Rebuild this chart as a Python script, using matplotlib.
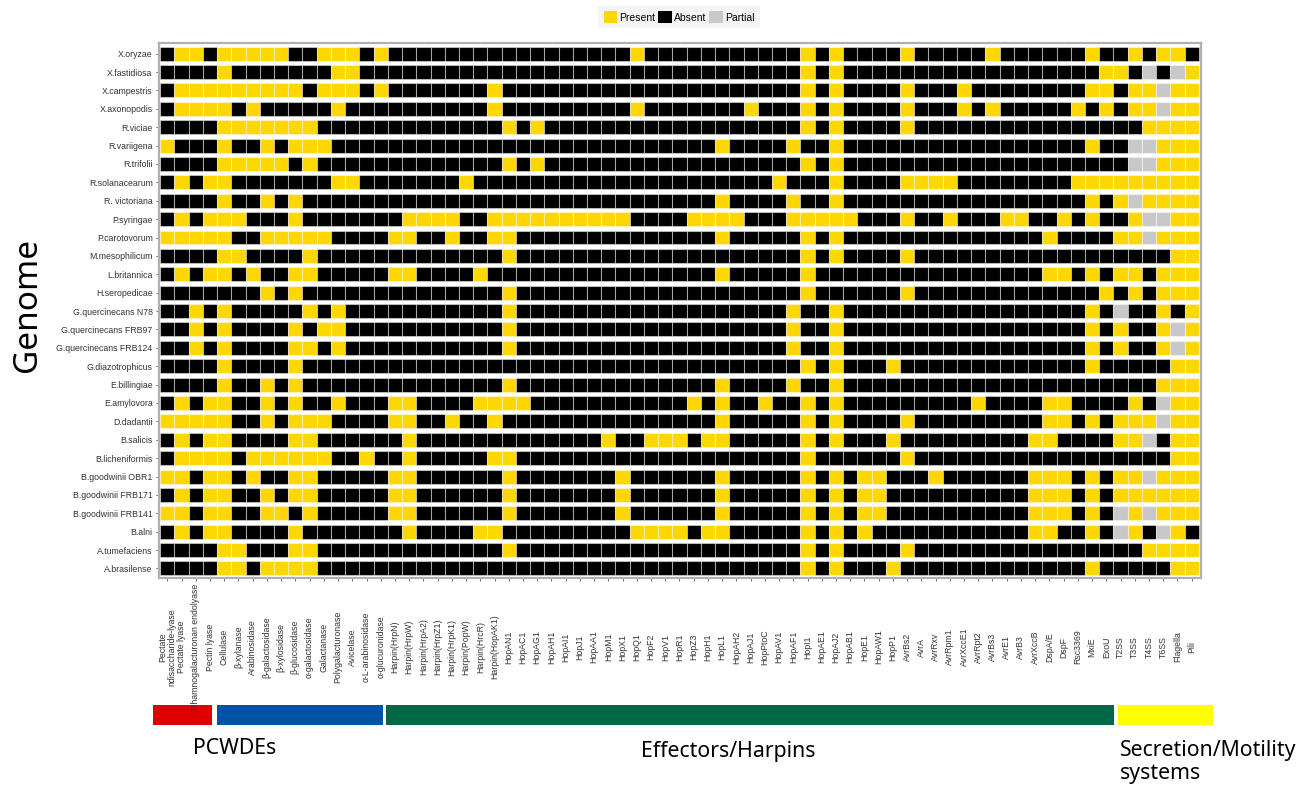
import matplotlib
matplotlib.use("Agg")
import matplotlib.pyplot as plt
from matplotlib.patches import Patch, Rectangle

# ---------------------------------------------------------------- data
genomes = [
    "X.oryzae", "X.fastidiosa", "X.campestris", "X.axonopodis", "R.viciae",
    "R.variigena", "R.trifolii", "R.solanacearum", "R. victoriana", "P.syringae",
    "P.carotovorum", "M.mesophilicum", "L.britannica", "H.seropedicae",
    "G.quercinecans N78", "G.quercinecans FRB97", "G.quercinecans FRB124",
    "G.diazotrophicus", "E.billingiae", "E.amylovora", "D.dadantii", "B.salicis",
    "B.licheniformis", "B.goodwinii OBR1", "B.goodwinii FRB171",
    "B.goodwinii FRB141", "B.alni", "A.tumefaciens", "A.brasilense",
]

genes = [
    "Pectate\nndisaccharide-lyase", "Pectate lyase", "Rhamnogalacturonan endolyase",
    "Pectin lyase", "Cellulase", "β-xylanase", "Arabinosidase", "β-galactosidase",
    "β-xylosidase", "β-glucosidase", "α-galactosidase", "Galactanase",
    "Polygalacturonase", "Avicelase", "α-L-arabinosidase", "α-glucuronidase",
    "Harpin(HrpN)", "Harpin(HrpW)", "Harpin(HrpA2)", "Harpin(HrpZ1)",
    "Harpin(HrpK1)", "Harpin(PopW)", "Harpin(HrcR)", "Harpin(HopAK1)",
    "HopAN1", "HopAC1", "HopAG1", "HopAH1", "HopAI1", "HopJ1", "HopAA1", "HopM1",
    "HopX1", "HopQ1", "HopF2", "HopV1", "HopR1", "HopZ3", "HopH1", "HopL1",
    "HopAH2", "HopAJ1", "HopPtoC", "HopAV1", "HopAF1", "HopI1", "HopAE1", "HopAJ2",
    "HopAB1", "HopE1", "HopAW1", "HopP1", "AvrBs2", "AvrA", "AvrRxv", "AvrRpm1",
    "AvrXccE1", "AvrRpt2", "AvrBs3", "AvrE1", "AvrB3", "AvrXccB", "DspA/E", "DspF",
    "Rsc3369", "MxiE", "ExoU", "T2SS", "T3SS", "T4SS", "T6SS", "Flagella", "Pili",
]

# one string per genome, one character per gene (blocks of ten for reading)
# 1 = present, 0 = absent, 2 = partial
status = [
    "0110111110 0111010000 0000000000 0001000000 0000010100 0010000010 0000010010 110",  # X.oryzae
    "0000100000 0011000000 0000000000 0000000000 0000010100 0000000000 0000001102 021",  # X.fastidiosa
    "0111111111 0111010000 0001000000 0000000000 0000010100 0010001000 0000011011 211",  # X.campestris
    "0111101000 0010000000 0001000000 0001000000 0100010100 0010001010 0000101011 211",  # X.axonopodis
    "0000111111 1000000000 0000101000 0000000000 0000010100 0010000000 0000000001 111",  # R.viciae
    "1000100101 1100000000 0000000000 0000000001 0000100100 0000000000 0000010022 111",  # R.variigena
    "0000111110 1000000000 0000101000 0000000000 0000010100 0000000000 0000000022 111",  # R.trifolii
    "0101100000 0011000000 0100000000 0000000000 0001000100 0011110000 0000111111 111",  # R.solanacearum
    "0000100101 0000000000 0000000000 0000000001 0000100100 0000000000 0000010121 111",  # R. victoriana
    "0101110001 0000000111 1001111111 1110000111 1000111110 0010010001 1001010012 211",  # P.syringae
    "1111100111 1100001100 1001100000 0000000001 0000010100 0000000000 0010000112 111",  # P.carotovorum
    "0000110000 1000000000 0000100000 0000000000 0000010100 0010000000 0000000000 011",  # M.mesophilicum
    "0101101001 1000001100 0010000000 0000000001 0000010000 0000000000 0011010110 111",  # L.britannica
    "0000000101 0000000000 0000100000 0000000000 0000010000 0010000000 0000001010 111",  # H.seropedicae
    "0010100000 1010000000 0000100000 0000000000 0000100100 0000000000 0000010200 101",  # G.q. N78
    "0010100001 0110000000 0000100000 0000000000 0000100100 0000000000 0000010100 121",  # G.q. FRB97
    "0010100001 1010000000 0000100000 0000000000 0000100100 0000000000 0000010100 121",  # G.q. FRB124
    "0000100001 0000000000 0000000000 0000000000 0000010100 0100000000 0000010000 011",  # G.diazotrophicus
    "0000100101 0000000000 0000100000 0000000001 0000100100 0000000000 0000000000 111",  # E.billingiae
    "0101100101 0010001100 0011110000 0000000101 0010010100 0000000100 0011000010 211",  # E.amylovora
    "1111100101 1100001100 1001000000 0000000001 0000010100 0010000000 0011010111 211",  # D.dadantii
    "0101100001 1000000100 0000000000 0100111011 0000010100 0100000000 0110000112 011",  # B.salicis
    "0111101111 1100100100 0001100000 0000000000 0000010000 0010000000 0000000000 011",  # B.licheniformis
    "1101101001 1000001100 0000100000 0010000001 0000010101 1000100000 0111010112 111",  # B.goodwinii OBR1
    "0101100101 1000001100 0000100000 0010000001 0000010101 1000000000 0111010111 111",  # B.goodwinii FRB171
    "1101100110 1000001100 0000100000 0010000001 0000010101 1000000000 0111010212 111",  # B.goodwinii FRB141
    "0101100001 0000000100 0011000000 0001111011 0000010101 0000000000 0110010210 210",  # B.alni
    "0000110001 1000000000 0000100000 0000000000 0000010100 0010000000 0000000001 111",  # A.tumefaciens
    "0000110111 1000000000 0000000000 0000000000 0000010100 0100000000 0000010000 011",  # A.brasilense
]

status_labels = {"1": "Present", "0": "Absent", "2": "Partial"}
status_colors = {"1": "#FFD700", "0": "#000000", "2": "#C8C8C8"}

group_names = ["PCWDEs", "Effectors/Harpins", "Secretion/Motility\nsystems"]

# ---------------------------------------------------------------- layout
W, H = 1309, 785
fig = plt.figure(figsize=(W / 100, H / 100), dpi=100)
ax = fig.add_axes([158.5 / W, 1 - 578 / H, (1200.5 - 158.5) / W, (578 - 43) / H])

tick_font = "Liberation Sans"
cell_h = 0.76
for i, row in enumerate(status):
    codes = row.replace(" ", "")
    ax.bar(range(len(codes)), cell_h, bottom=i - cell_h / 2, width=1.0,
           color=[status_colors[c] for c in codes],
           edgecolor=(1, 1, 1, 0.45), linewidth=0.8)

ax.set_xlim(-0.62, len(genes) - 0.38)
ax.set_ylim(len(genomes) - 0.48, -0.58)

ax.set_yticks(range(len(genomes)))
ax.set_yticklabels(genomes, fontsize=6.3, color="#333333", family=tick_font)
ax.set_xticks(range(len(genes)))
ax.set_xticklabels(genes, rotation=90, fontsize=6.3, color="#333333",
                   family=tick_font, ha="center", va="center",
                   multialignment="center", linespacing=1.1)
ax.tick_params(axis="x", length=2.2, width=0.6, color="#555555", pad=47.5)
ax.tick_params(axis="y", length=2.2, width=0.6, color="#555555", pad=2.0)
for sp in ax.spines.values():
    sp.set_color("#b0b0b0")
    sp.set_linewidth(1.6)

# legend
handles = [Patch(facecolor=status_colors[k], edgecolor="none", label=status_labels[k])
           for k in ["1", "0", "2"]]
leg = fig.legend(handles=handles, loc="upper center", ncol=3,
                 bbox_to_anchor=(679 / W, 1 - 1 / H), frameon=True,
                 prop={"family": tick_font, "size": 7.5},
                 handlelength=1.3, handleheight=1.3, handletextpad=0.2,
                 columnspacing=0.3, borderpad=0.5, fancybox=False)
leg.get_frame().set_facecolor("#f2f2f2")
leg.get_frame().set_edgecolor("none")

# y title
fig.text(28 / W, 1 - 305 / H, "Genome", rotation=90, ha="center", va="center",
         fontsize=24, family="Noto Sans")

# group bars and captions
lay = fig.add_axes([0, 0, 1, 1], zorder=-1)
lay.set_xlim(0, W)
lay.set_ylim(H, 0)
lay.axis("off")
bar_segments = [(153, 212, "#E00000"), (217, 383, "#0052A5"),
                (386, 1114, "#006747"), (1118, 1213, "#FFFF00")]
for x0, x1, c in bar_segments:
    lay.add_patch(Rectangle((x0, 705), x1 - x0, 20, facecolor=c, edgecolor="none"))
caption_pos = [(193, 748), (641, 752), (1120, 762)]
for name, (x, y) in zip(group_names, caption_pos):
    lay.text(x, y, name, ha="left", va="center", fontsize=15.3, family="Noto Sans",
             linespacing=1.15)

fig.savefig("out.png", dpi=100)
